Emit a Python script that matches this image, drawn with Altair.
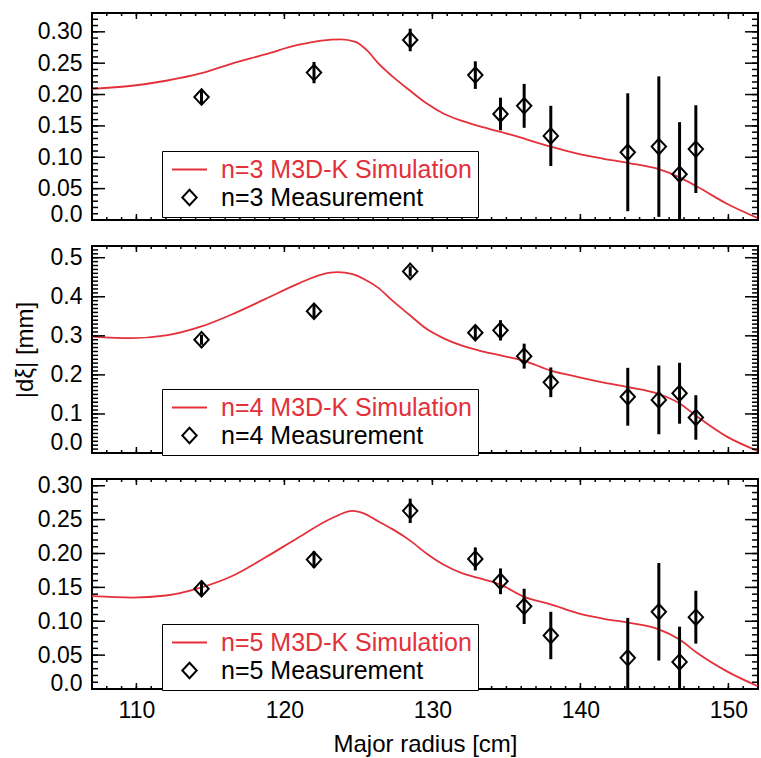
import altair as alt
import pandas as pd

# ---------------- data ----------------
R_MEAS = [114.4, 122.0, 128.5, 132.9, 134.6, 136.2, 138.0, 143.2, 145.3, 146.7, 147.8]

MEAS3 = [0.196, 0.235, 0.287, 0.231, 0.169, 0.182, 0.134, 0.108, 0.117, 0.073, 0.113]
ERR3 = [0.011, 0.017, 0.018, 0.022, 0.026, 0.035, 0.048, 0.094, 0.112, 0.083, 0.070]
MEAS4 = [0.290, 0.363, 0.465, 0.308, 0.314, 0.248, 0.181, 0.144, 0.136, 0.153, 0.091]
ERR4 = [0.013, 0.016, 0.013, 0.019, 0.026, 0.032, 0.038, 0.074, 0.088, 0.078, 0.057]
MEAS5 = [0.148, 0.191, 0.263, 0.192, 0.159, 0.122, 0.079, 0.046, 0.114, 0.040, 0.106]
ERR5 = [0.010, 0.012, 0.018, 0.017, 0.019, 0.026, 0.035, 0.059, 0.072, 0.052, 0.039]

R_SIM3 = [107.0, 109.7, 112.0, 114.4, 116.4, 118.7, 120.9, 122.5, 123.8, 124.8, 125.6, 126.3,
          127.3, 128.5, 129.6, 130.8, 132.0, 133.1, 135.3, 138.0, 139.8, 141.5, 143.2, 145.3,
          146.7, 147.9, 149.9, 152.0]
SIM3 = [0.209, 0.214, 0.222, 0.234, 0.249, 0.264, 0.279, 0.286, 0.288, 0.284, 0.270, 0.251,
        0.229, 0.206, 0.186, 0.169, 0.158, 0.150, 0.136, 0.117, 0.106, 0.098, 0.091, 0.081,
        0.068, 0.053, 0.026, 0.003]

R_SIM4 = [107.0, 109.7, 112.0, 114.4, 116.4, 118.7, 120.9, 122.5, 123.6, 124.6, 125.4, 126.3,
          127.3, 128.5, 129.6, 130.8, 132.0, 133.1, 134.6, 136.2, 138.0, 139.8, 141.5, 143.2,
          145.3, 146.7, 147.9, 149.9, 152.0]
SIM4 = [0.298, 0.294, 0.301, 0.324, 0.354, 0.394, 0.433, 0.457, 0.463, 0.458, 0.445, 0.424,
        0.390, 0.352, 0.318, 0.293, 0.275, 0.263, 0.250, 0.236, 0.211, 0.195, 0.181, 0.169,
        0.151, 0.127, 0.093, 0.042, 0.005]

R_SIM5 = [107.0, 109.7, 112.0, 114.4, 116.4, 118.7, 120.9, 123.2, 124.6, 125.4, 126.3, 127.3,
          128.5, 129.6, 130.8, 132.0, 133.1, 134.6, 136.2, 138.0, 139.8, 141.5, 143.2, 145.3,
          146.7, 147.9, 149.9, 152.0]
SIM5 = [0.137, 0.135, 0.138, 0.150, 0.166, 0.194, 0.223, 0.252, 0.263, 0.259, 0.248, 0.236,
        0.219, 0.200, 0.183, 0.171, 0.164, 0.154, 0.136, 0.125, 0.112, 0.104, 0.098, 0.088,
        0.073, 0.053, 0.026, 0.004]

X_DOMAIN = [107, 152]
X_MAJOR = [110, 120, 130, 140, 150]
X_MINOR = list(range(107, 153))

# ---------------- styling ----------------
RED = "#e3303a"
FONT = "Liberation Sans"
W = 666
SYM = 400
LINE_PATH = "M-1.75,0L1.75,0"
DIAMOND_PATH = "M0,-0.78L0.72,0L0,0.78L-0.72,0Z"
Y_MAJ_LEN, Y_MIN_LEN, X_MAJ_LEN, X_MIN_LEN = 13, 6, 6, 3


def tick_layers(xs, ys, H, y_major, y_minor):
    layers = []
    for vals, L in ((y_major, Y_MAJ_LEN), (y_minor, Y_MIN_LEN)):
        df = pd.DataFrame({"t": vals})
        ey = alt.Y("t:Q", scale=ys, axis=None)
        layers.append(alt.Chart(df).mark_rule(color="black", strokeWidth=1.5).encode(
            y=ey, x=alt.value(0), x2=alt.value(L)))
        layers.append(alt.Chart(df).mark_rule(color="black", strokeWidth=1.5).encode(
            y=ey, x=alt.value(W), x2=alt.value(W - L)))
    for vals, L in ((X_MAJOR, X_MAJ_LEN), (X_MINOR, X_MIN_LEN)):
        df = pd.DataFrame({"t": vals})
        ex = alt.X("t:Q", scale=xs, axis=None)
        layers.append(alt.Chart(df).mark_rule(color="black", strokeWidth=1.5).encode(
            x=ex, y=alt.value(0), y2=alt.value(L)))
        layers.append(alt.Chart(df).mark_rule(color="black", strokeWidth=1.5).encode(
            x=ex, y=alt.value(H), y2=alt.value(H - L)))
    return layers


def panel(n, r_sim, sim, meas, err, ymax, ystep, fmt, H, legend_y, show_x, ytitle, flush_off):
    sim_name = f"n={n} M3D-K Simulation"
    meas_name = f"n={n} Measurement"
    sdf = pd.DataFrame({"r": r_sim, "v": sim})
    mdf = pd.DataFrame({
        "r": R_MEAS, "v": meas,
        "lo": [m - e for m, e in zip(meas, err)],
        "hi": [m + e for m, e in zip(meas, err)],
        "series": [meas_name] * len(meas),
    })
    xs = alt.Scale(domain=X_DOMAIN, nice=False, zero=False)
    ys = alt.Scale(domain=[0, ymax], nice=False, zero=False)
    nmaj = int(round(ymax / ystep + 0.5))
    y_major = [round(i * ystep, 3) for i in range(nmaj + 1) if i * ystep <= ymax + 1e-9]
    y_minor = [round(i * 0.01, 3) for i in range(int(round(ymax / 0.01)) + 1)]

    ylab_kwargs = dict(orient="left", values=y_major, ticks=False, tickSize=0, domain=False,
                       grid=False, labelPadding=10, labelFlush=True, labelFlushOffset=flush_off,
                       labelOverlap=False,
                       labelFont=FONT, labelFontSize=23, labelColor="black",
                       labelExpr=f"datum.value == 0 ? '0.0' : format(datum.value, '{fmt}')")
    if ytitle:
        ylab = alt.Axis(title=ytitle, titlePadding=13, titleFont=FONT, titleFontSize=24,
                        titleFontWeight="normal", titleColor="black", **ylab_kwargs)
    else:
        ylab = alt.Axis(title=None, **ylab_kwargs)

    if show_x:
        xlab = alt.Axis(orient="bottom", values=X_MAJOR, ticks=False, tickSize=0, domain=False,
                        grid=False, labelPadding=10, format="d", labelOverlap=False,
                        labelFont=FONT, labelFontSize=23, labelColor="black",
                        title="Major radius [cm]", titlePadding=10, titleFont=FONT,
                        titleFontSize=24, titleFontWeight="normal", titleColor="black")
    else:
        xlab = None

    legend = alt.Legend(orient="none", legendX=70, legendY=legend_y, direction="vertical",
                        title=None, labelFont=FONT, labelFontSize=25, labelLimit=500,
                        labelColor={"expr": f"indexof(datum.label, 'Simulation') >= 0 ? '{RED}' : 'black'"},
                        symbolSize=SYM, symbolStrokeWidth=2, symbolOpacity=1,
                        fillColor="white", strokeColor="black", padding=6,
                        rowPadding=2, labelOffset=19, symbolOffset=9)

    line = alt.Chart(sdf).mark_line(color=RED, strokeWidth=1.8, interpolate="monotone", clip=True).encode(
        x=alt.X("r:Q", scale=xs, axis=xlab),
        y=alt.Y("v:Q", scale=ys, axis=ylab),
    )
    rule = alt.Chart(mdf).mark_rule(color="black", strokeWidth=3, clip=True).encode(
        x=alt.X("r:Q", scale=xs, axis=None),
        y=alt.Y("lo:Q", scale=ys, axis=None),
        y2="hi:Q",
    )
    pts = alt.Chart(mdf).mark_point(filled=False, size=SYM, strokeWidth=2, opacity=1).encode(
        x=alt.X("r:Q", scale=xs, axis=None),
        y=alt.Y("v:Q", scale=ys, axis=None),
        color=alt.Color("series:N", scale=alt.Scale(domain=[sim_name, meas_name], range=[RED, "black"]),
                        legend=legend),
        shape=alt.Shape("series:N", scale=alt.Scale(domain=[sim_name, meas_name],
                                                    range=[LINE_PATH, DIAMOND_PATH]),
                        legend=legend),
    )
    layers = [line] + tick_layers(xs, ys, H, y_major, y_minor) + [rule, pts]
    return alt.layer(*layers).resolve_axis(x="independent", y="independent").properties(width=W, height=H)


p1 = panel(3, R_SIM3, SIM3, MEAS3, ERR3, 0.33, 0.05, ".2f", 207, 138, False, None, 6)
p2 = panel(4, R_SIM4, SIM4, MEAS4, ERR4, 0.53, 0.1, ".1f", 207, 143, False, "|dξ| [mm]", 1)
p3 = panel(5, R_SIM5, SIM5, MEAS5, ERR5, 0.31, 0.05, ".2f", 210, 145, True, None, 6)

chart = alt.vconcat(p1, p2, p3, spacing=26, bounds="flush").resolve_scale(
    color="independent", shape="independent"
).resolve_legend(color="independent", shape="independent").properties(
    padding={"left": 12, "top": 11, "right": 0, "bottom": 0}
).configure(font=FONT).configure_view(stroke="black", strokeWidth=2)

chart.save("out.html", embed_options={"renderer": "svg", "actions": False})
